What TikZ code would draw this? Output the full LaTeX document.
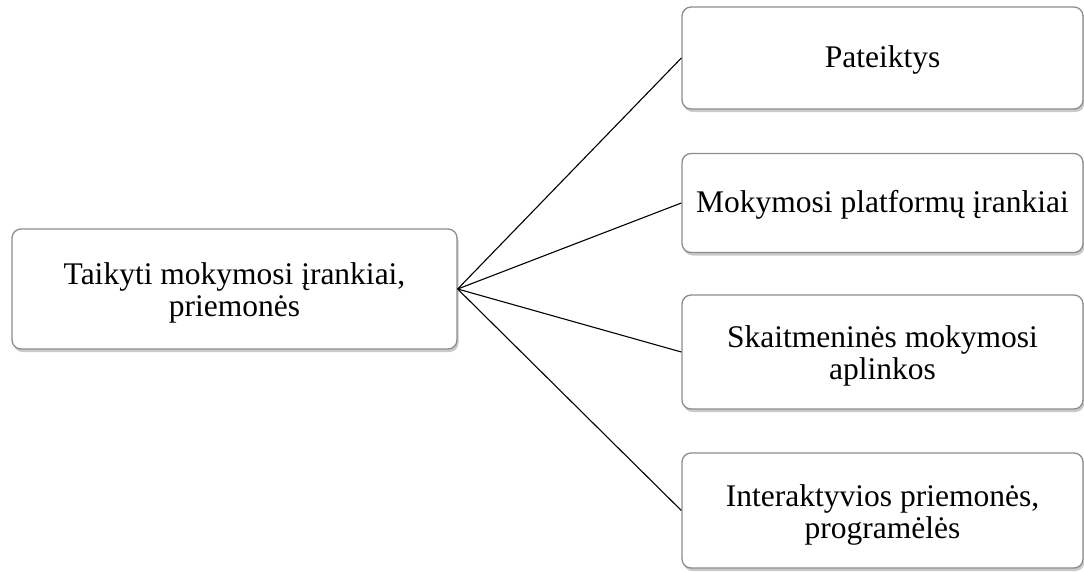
\documentclass[tikz,border=0pt]{standalone}
\usepackage{fontspec}
\setmainfont{Liberation Serif}
\usetikzlibrary{shadows}
\begin{document}
\begin{tikzpicture}[x=1pt,y=-1pt,
  box/.style={draw=black!45, line width=1.3pt, fill=white, rounded corners=9pt,
    inner sep=0pt,
    drop shadow={shadow xshift=1.5pt, shadow yshift=-3pt, opacity=0.35, fill=black!60}},
  boxtext/.style={align=center, inner sep=0pt, font=\fontsize{31.5}{32}\selectfont},
  link/.style={draw=black, line width=1.1pt}]
  \useasboundingbox (0,0) rectangle (1084,571);

  % central item
  \node[box, minimum width=445pt, minimum height=120pt] (main) at (234.5,289) {};
  \node[boxtext] (main-t) at ([yshift=-4pt]main.center) {Taikyti mokymosi įrankiai,\\priemonės};

  % branches
  \node[box, minimum width=401pt, minimum height=102pt] (b1) at (882.5,58) {};
  \node[box, minimum width=401pt, minimum height=99pt] (b2) at (882.5,203) {};
  \node[box, minimum width=401pt, minimum height=114pt] (b3) at (882.5,352) {};
  \node[box, minimum width=401pt, minimum height=115pt] (b4) at (882.5,510.5) {};

  \node[boxtext] (b1-t) at ([yshift=-2pt]b1.center) {Pateiktys};
  \node[boxtext] (b2-t) at ([yshift=-2pt]b2.center) {Mokymosi platformų įrankiai};
  \node[boxtext] (b3-t) at ([yshift=-4pt]b3.center) {Skaitmeninės mokymosi\\aplinkos};
  \node[boxtext] (b4-t) at ([yshift=-4pt]b4.center) {Interaktyvios priemonės,\\programėlės};

  \foreach \b in {b1,b2,b3,b4}
    \draw[link] (main.east) -- (\b.west);
\end{tikzpicture}
\end{document}
